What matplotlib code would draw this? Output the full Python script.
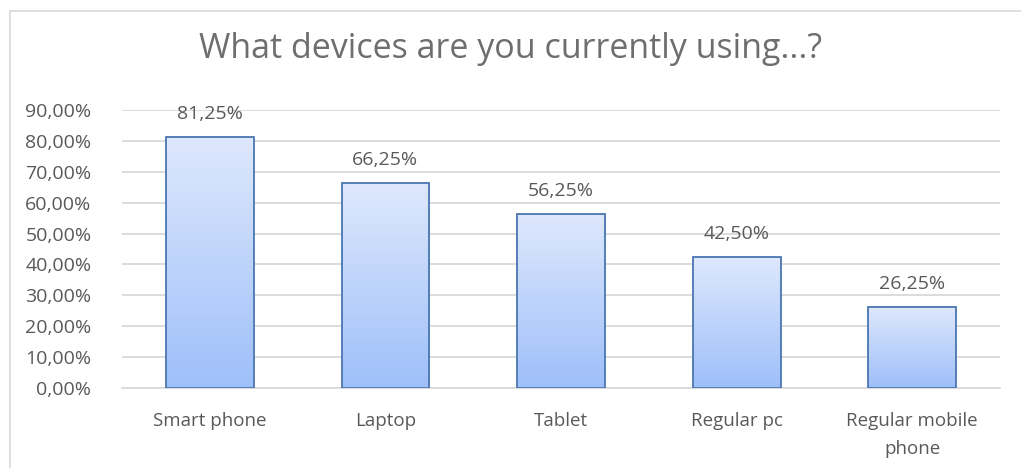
import matplotlib.pyplot as plt
import numpy as np
from matplotlib.patches import Rectangle

# data
devices = ['Smart phone', 'Laptop', 'Tablet', 'Regular pc', 'Regular mobile\nphone']
share = [81.25, 66.25, 56.25, 42.50, 26.25]
yticks = [0, 10, 20, 30, 40, 50, 60, 70, 80, 90]

plt.rcParams['font.family'] = ['Open Sans', 'DejaVu Sans']
txt = '#595959'

fig = plt.figure(figsize=(10.21, 4.68), dpi=100)
W, H = 1021, 468
ax = fig.add_axes([122 / W, 1 - 388 / H, 878 / W, (388 - 110) / H])

# outer chart border (runs off the right and bottom of the image)
fig.patches.append(Rectangle((10 / W, -20 / H), 1100 / W, (468 - 11 + 20) / H,
                             transform=fig.transFigure, fill=False,
                             edgecolor='#d9d9d9', linewidth=1.2))

x = np.arange(len(devices))
bars = ax.bar(x, share, width=0.5, color='none', edgecolor='#4a76b0',
              linewidth=1.3, zorder=3)

# vertical gradient inside each bar
grad = np.linspace(0, 1, 256).reshape(-1, 1)
top = np.array([0.87, 0.91, 0.99])
bot = np.array([0.62, 0.75, 0.98])
img = grad[:, :, None] * top + (1 - grad[:, :, None]) * bot
for b in bars:
    x0, w, h = b.get_x(), b.get_width(), b.get_height()
    im = ax.imshow(img, extent=[x0, x0 + w, 0, h], origin='lower',
                   aspect='auto', zorder=2)
    im.set_clip_path(b)

for xi, v in zip(x, share):
    ax.text(xi, v + 4.5, f'{v:.2f}%'.replace('.', ','), ha='center',
            va='bottom', fontsize=14, color=txt)

ax.set_xlim(-0.5, len(devices) - 0.5)
ax.set_ylim(0, 90)
ax.set_yticks(yticks)
ax.set_yticklabels([f'{t:.2f}%'.replace('.', ',') for t in yticks],
                   fontsize=14, color=txt)
ax.set_xticks(x)
ax.set_xticklabels(devices, fontsize=13.5, color=txt, linespacing=1.75)
ax.tick_params(length=0, pad=17)
ax.tick_params(axis='y', pad=22)
ax.grid(axis='y', color='#d9d9d9', linewidth=1.3, zorder=0)
for s in ax.spines.values():
    s.set_visible(False)
ax.spines['bottom'].set_visible(True)
ax.spines['bottom'].set_color('#d9d9d9')
ax.spines['bottom'].set_linewidth(1.3)

fig.text(0.5, 1 - 49 / H, 'What devices are you currently using...?',
         ha='center', va='center', fontsize=24.5, color='#6e6e6e')

fig.savefig('out.png', dpi=100)
